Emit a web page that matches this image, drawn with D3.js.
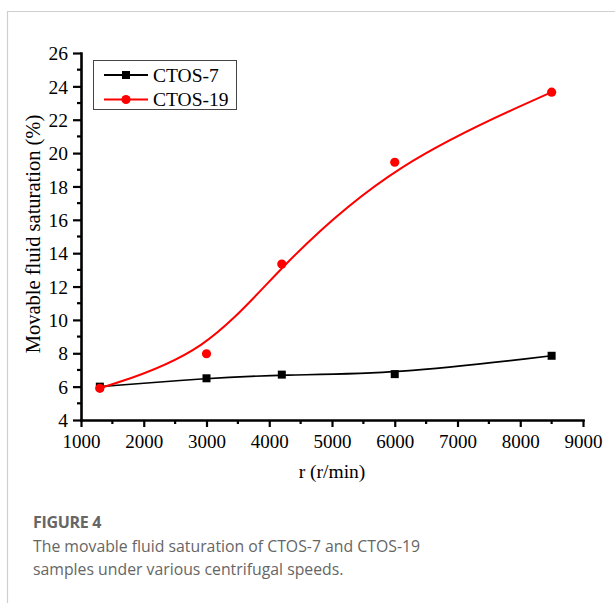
<!DOCTYPE html>
<html>
<head>
<meta charset="utf-8">
<script src="https://cdn.jsdelivr.net/npm/d3@7"></script>
<style>
  html, body { margin: 0; padding: 0; background: #fff; }
  svg { display: block; }
</style>
</head>
<body>
<svg id="chart" width="615" height="603"></svg>
<script>
// Centrifugal speed (r/min)
const speeds = [1300, 3000, 4200, 6000, 8500];
// Movable fluid saturation (%) per sample
const ctos7 = [6.0, 6.5, 6.72, 6.75, 7.85];
const ctos19 = [5.9, 7.97, 13.35, 19.45, 23.65];
const seriesNames = ["CTOS-7", "CTOS-19"];
const seriesColors = ["#000000", "#ff0000"];
const xTicks = [1000, 2000, 3000, 4000, 5000, 6000, 7000, 8000, 9000];
const yTicks = [4, 6, 8, 10, 12, 14, 16, 18, 20, 22, 24, 26];

const svg = d3.select("#chart");
const serif = "'Liberation Serif', 'Times New Roman', serif";

// Panel border (top and left rules)
svg.append("line").attr("x1", 7).attr("x2", 615).attr("y1", 11.5).attr("y2", 11.5)
  .attr("stroke", "#cfcfcf").attr("stroke-width", 1.2);
svg.append("line").attr("x1", 7.5).attr("x2", 7.5).attr("y1", 11).attr("y2", 603)
  .attr("stroke", "#cfcfcf").attr("stroke-width", 1.2);

const x = d3.scaleLinear().domain([1000, 9000]).range([81, 583]);
const y = d3.scaleLinear().domain([4, 26]).range([420, 53]);

// Minor ticks
const xMinor = d3.range(1500, 9000, 1000);
const yMinor = d3.range(5, 26, 2);

const gx = svg.append("g").attr("transform", "translate(0,420)");
gx.call(d3.axisBottom(x).tickValues(xTicks).tickSize(7).tickSizeOuter(0).tickFormat(d3.format("d")));
gx.selectAll(".tick text").attr("y", 28).attr("dy", 0)
  .style("font-family", serif).style("font-size", "19px").attr("fill", "#000");
gx.selectAll(".tick line").attr("stroke-width", 2.2);
gx.select(".domain").attr("stroke-width", 2.6);
gx.selectAll(".minor").data(xMinor).enter().append("line")
  .attr("x1", d => x(d)).attr("x2", d => x(d)).attr("y1", 0).attr("y2", 4)
  .attr("stroke", "#000").attr("stroke-width", 2.2);

const gy = svg.append("g").attr("transform", "translate(81,0)");
gy.call(d3.axisLeft(y).tickValues(yTicks).tickSize(8).tickSizeOuter(0).tickFormat(d3.format("d")));
gy.selectAll(".tick text").attr("x", -13).attr("dy", "0.34em")
  .style("font-family", serif).style("font-size", "19.5px").attr("fill", "#000");
gy.selectAll(".tick line").attr("stroke-width", 2.2);
gy.select(".domain").attr("stroke-width", 2.6);
gy.selectAll(".minor").data(yMinor).enter().append("line")
  .attr("x1", 0).attr("x2", -4).attr("y1", d => y(d)).attr("y2", d => y(d))
  .attr("stroke", "#000").attr("stroke-width", 2.2);
svg.selectAll(".domain").attr("stroke-linecap", "square");

// Axis titles
svg.append("text")
  .attr("transform", "translate(40,234) rotate(-90)")
  .attr("text-anchor", "middle")
  .style("font-family", serif).style("font-size", "20.5px")
  .text("Movable fluid saturation (%)");
svg.append("text")
  .attr("x", 332).attr("y", 478)
  .attr("text-anchor", "middle")
  .style("font-family", serif).style("font-size", "19.5px")
  .text("r (r/min)");

// Smoothed series curves
const line = d3.line().x(d => x(d[0])).y(d => y(d[1])).curve(d3.curveBasis);
const series = [ctos7, ctos19];
series.forEach((vals, i) => {
  const pts = speeds.map((s, j) => [s, vals[j]]);
  svg.append("path").datum(pts)
    .attr("d", line)
    .attr("fill", "none")
    .attr("stroke", seriesColors[i])
    .attr("stroke-width", i === 0 ? 1.6 : 2);
});

// Markers
svg.selectAll(".sq").data(speeds.map((s, j) => [s, ctos7[j]])).enter()
  .append("rect")
  .attr("x", d => x(d[0]) - 4).attr("y", d => y(d[1]) - 4)
  .attr("width", 8).attr("height", 8).attr("fill", seriesColors[0]);
svg.selectAll(".ci").data(speeds.map((s, j) => [s, ctos19[j]])).enter()
  .append("circle")
  .attr("cx", d => x(d[0])).attr("cy", d => y(d[1]))
  .attr("r", 4.6).attr("fill", seriesColors[1]);

// Legend
const lg = svg.append("g");
lg.append("rect").attr("x", 93.5).attr("y", 60.5).attr("width", 143).attr("height", 49)
  .attr("fill", "#fff").attr("stroke", "#444").attr("stroke-width", 1);
seriesNames.forEach((name, i) => {
  const cy = 75 + i * 24.5;
  lg.append("line").attr("x1", 104).attr("x2", 148).attr("y1", cy).attr("y2", cy)
    .attr("stroke", seriesColors[i]).attr("stroke-width", 2);
  if (i === 0) {
    lg.append("rect").attr("x", 122).attr("y", cy - 4).attr("width", 8).attr("height", 8)
      .attr("fill", seriesColors[i]);
  } else {
    lg.append("circle").attr("cx", 126).attr("cy", cy).attr("r", 4.6).attr("fill", seriesColors[i]);
  }
  lg.append("text").attr("x", 153).attr("y", cy + 6.5)
    .style("font-family", serif).style("font-size", "19.5px")
    .text(name);
});

// Figure caption
const sans = "'Open Sans', 'Noto Sans', sans-serif";
svg.append("text").attr("x", 33).attr("y", 528)
  .style("font-family", sans).style("font-size", "16px").style("font-weight", "bold")
  .style("letter-spacing", "-0.3px")
  .attr("fill", "#666").text("FIGURE 4");
svg.append("text").attr("x", 33).attr("y", 552)
  .style("font-family", sans).style("font-size", "15.8px")
  .attr("fill", "#666").text("The movable fluid saturation of CTOS-7 and CTOS-19");
svg.append("text").attr("x", 33).attr("y", 575)
  .style("font-family", sans).style("font-size", "15.8px")
  .attr("fill", "#666").text("samples under various centrifugal speeds.");
</script>
</body>
</html>
